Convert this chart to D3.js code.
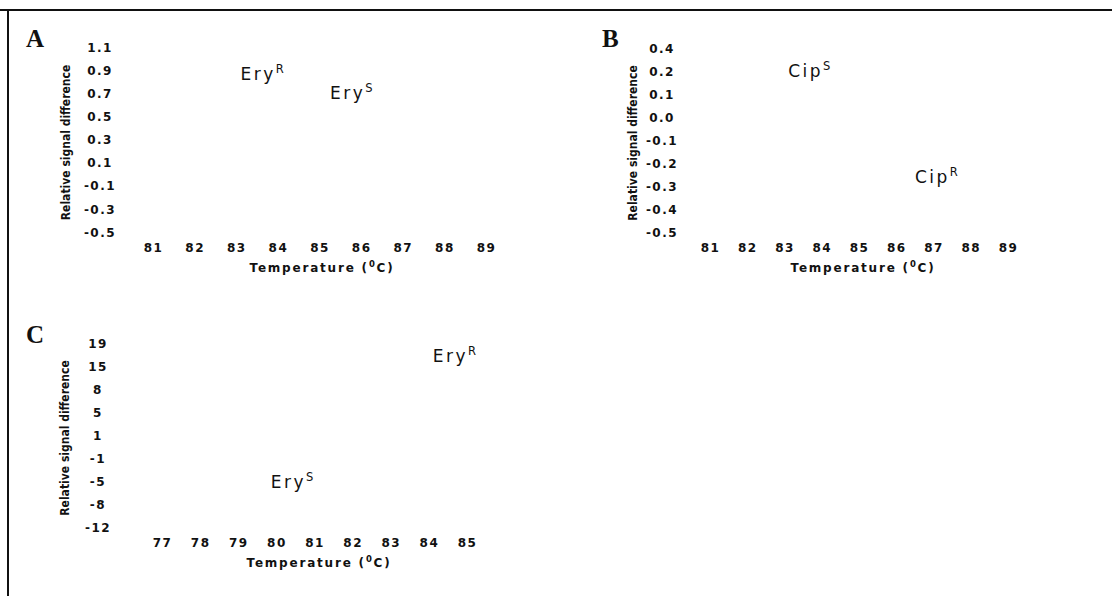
<!DOCTYPE html>
<html>
<head>
<meta charset="utf-8">
<script src="https://cdn.jsdelivr.net/npm/d3@7"></script>
<style>
  body { margin: 0; background: #fff; }
  .tick text { font-family: "DejaVu Sans", Verdana, sans-serif; font-weight: bold; font-size: 12px; letter-spacing: 1.5px; fill: #111; }
  .xtitle { font-family: "DejaVu Sans", Verdana, sans-serif; font-weight: bold; font-size: 12px; letter-spacing: 1.8px; fill: #111; }
  .ytitle { font-family: "Liberation Sans Narrow", "DejaVu Sans Condensed", sans-serif; font-weight: bold; font-size: 12px; fill: #111; }
  .series { font-family: "DejaVu Sans", Verdana, sans-serif; font-size: 17px; letter-spacing: 2.5px; fill: #111; }
  .panel-letter { font-family: "Liberation Serif", "Times New Roman", serif; font-weight: bold; font-size: 25px; fill: #111; }
</style>
</head>
<body>
<div id="chart-container"></div>
<script>
let width = 1112;
let height = 596;

// Panel A: erythromycin
const aTemps = [81, 82, 83, 84, 85, 86, 87, 88, 89];
const aSignal = [1.1, 0.9, 0.7, 0.5, 0.3, 0.1, -0.1, -0.3, -0.5];
const aLabels = [
  { name: "Ery", sup: "R", temp: 83.1, value: 0.87 },
  { name: "Ery", sup: "S", temp: 85.25, value: 0.7 },
];

// Panel B: ciprofloxacin
const bTemps = [81, 82, 83, 84, 85, 86, 87, 88, 89];
const bSignal = [0.4, 0.2, 0.1, 0.0, -0.1, -0.2, -0.3, -0.4, -0.5];
const bLabels = [
  { name: "Cip", sup: "S", temp: 83.1, value: 0.2 },
  { name: "Cip", sup: "R", temp: 86.5, value: -0.26 },
];

// Panel C: erythromycin
const cTemps = [77, 78, 79, 80, 81, 82, 83, 84, 85];
const cSignal = [19, 15, 8, 5, 1, -1, -5, -8, -12];
const cLabels = [
  { name: "Ery", sup: "R", temp: 84.1, value: 16.7 },
  { name: "Ery", sup: "S", temp: 79.85, value: -5.1 },
];

var svg = d3
  .select("#chart-container")
  .append("svg")
  .attr("width", width)
  .attr("height", height);

// frame (top and left edges only)
svg.append("line").attr("x1", 0).attr("x2", width).attr("y1", 10).attr("y2", 10)
  .style("stroke", "#111").style("stroke-width", 2);
svg.append("line").attr("x1", 8).attr("x2", 8).attr("y1", 10).attr("y2", height)
  .style("stroke", "#111").style("stroke-width", 2);

function drawPanel(letter, temps, signal, labels, box) {
  let g = svg.append("g");

  let xScale = d3.scaleLinear()
    .domain([d3.min(temps), d3.max(temps)])
    .range([box.x0, box.x1]);

  // tick labels are evenly spaced even though the values are not
  let yScale = d3.scaleLinear()
    .domain(signal)
    .range(signal.map((d, i) => box.y0 + (i * (box.y1 - box.y0)) / (signal.length - 1)));

  // plain hyphen for negatives, like the original
  let fmt = (d) => (box.decimals ? d.toFixed(box.decimals) : String(d));

  g.append("g")
    .attr("transform", "translate(" + box.yAxisX + ",0)")
    .call(d3.axisLeft(yScale).tickValues(signal).tickSize(0).tickPadding(0).tickFormat(fmt))
    .call((a) => a.select(".domain").remove())
    .selectAll("text")
    .attr("text-anchor", "middle")
    .attr("dy", "0.35em");

  g.append("g")
    .attr("transform", "translate(0," + box.xAxisY + ")")
    .call(d3.axisBottom(xScale).tickValues(temps).tickSize(0).tickPadding(0).tickFormat(String))
    .call((a) => a.select(".domain").remove())
    .selectAll("text")
    .attr("dy", "0.35em");

  let xt = g.append("text")
    .attr("class", "xtitle")
    .attr("x", box.titleX)
    .attr("y", box.xAxisY + 20)
    .attr("dy", "0.35em")
    .attr("text-anchor", "middle");
  xt.append("tspan").text("Temperature (");
  xt.append("tspan").attr("baseline-shift", "super").style("font-size", "8.5px").text("0");
  xt.append("tspan").text("C)");

  g.append("text")
    .attr("class", "ytitle")
    .attr("transform", "translate(" + box.yTitleX + "," + ((box.y0 + box.y1) / 2 + 3) + ") rotate(-90)")
    .attr("text-anchor", "middle")
    .attr("dy", "0.35em")
    .text("Relative signal difference");

  g.append("text")
    .attr("class", "panel-letter")
    .attr("x", box.letterX)
    .attr("y", box.letterY)
    .text(letter);

  let lab = g.selectAll(".series")
    .data(labels)
    .enter()
    .append("text")
    .attr("class", "series")
    .attr("x", (d) => xScale(d.temp))
    .attr("y", (d) => yScale(d.value))
    .attr("dy", "0.35em");
  lab.append("tspan").text((d) => d.name);
  lab.append("tspan")
    .attr("baseline-shift", "super")
    .style("font-size", "11.5px")
    .style("letter-spacing", "0px")
    .text((d) => d.sup);
}

drawPanel("A", aTemps, aSignal, aLabels, {
  x0: 153, x1: 486, y0: 47, y1: 232, yAxisX: 100, xAxisY: 248,
  titleX: 322, yTitleX: 66, letterX: 26, letterY: 47, decimals: 1,
});

drawPanel("B", bTemps, bSignal, bLabels, {
  x0: 710, x1: 1008, y0: 48, y1: 232, yAxisX: 662, xAxisY: 248,
  titleX: 863, yTitleX: 633, letterX: 602, letterY: 47, decimals: 1,
});

drawPanel("C", cTemps, cSignal, cLabels, {
  x0: 162, x1: 467, y0: 343, y1: 527, yAxisX: 98, xAxisY: 543,
  titleX: 319, yTitleX: 65, letterX: 26, letterY: 343,
});
</script>
</body>
</html>
